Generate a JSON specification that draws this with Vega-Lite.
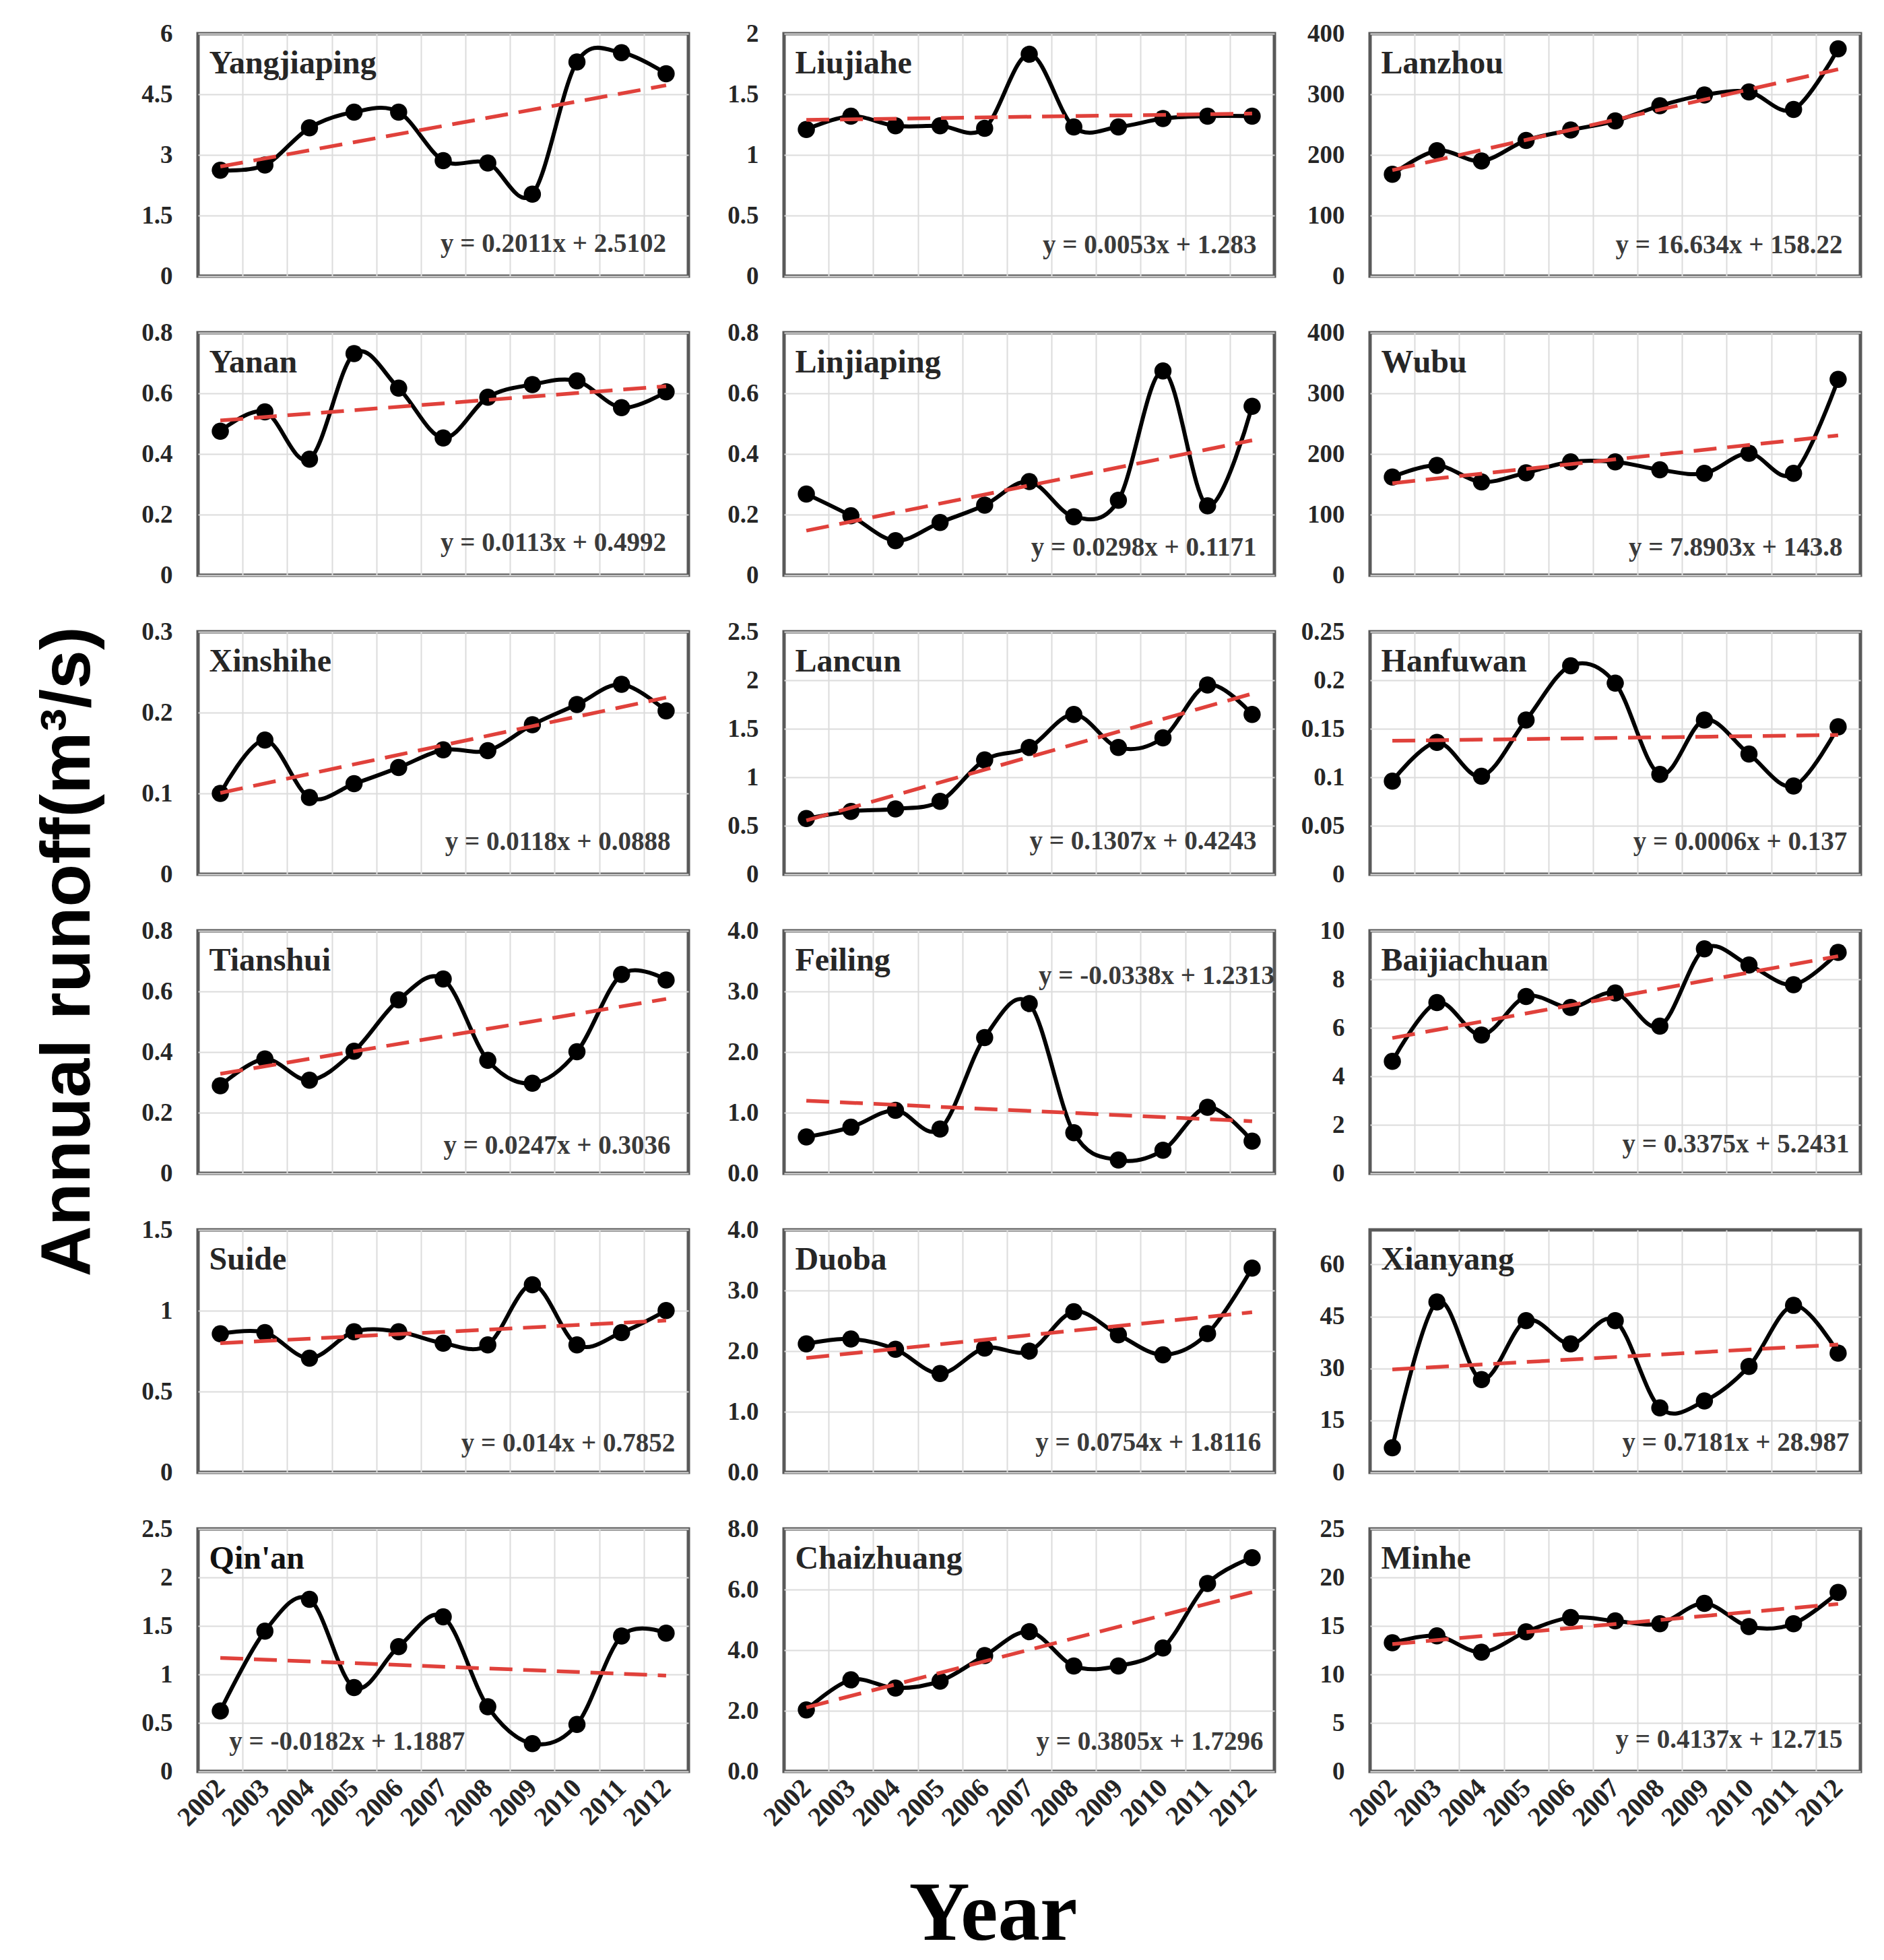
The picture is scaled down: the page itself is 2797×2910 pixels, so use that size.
{
"$schema": "https://vega.github.io/schema/vega-lite/v6.json",
"background": "white",
"padding": {"left": 50, "top": 28, "right": 10, "bottom": 10},
"title": {"text": "Annual runoff(m³/s)", "orient": "left", "anchor": "middle", "font": "Liberation Sans", "fontSize": 104, "fontWeight": "bold", "color": "black", "offset": 52, "dx": 55},
"datasets": {
"runoff": [
{"station":"Yangjiaping","year":2002,"value":2.62},{"station":"Yangjiaping","year":2003,"value":2.75},{"station":"Yangjiaping","year":2004,"value":3.67},{"station":"Yangjiaping","year":2005,"value":4.06},{"station":"Yangjiaping","year":2006,"value":4.06},{"station":"Yangjiaping","year":2007,"value":2.86},{"station":"Yangjiaping","year":2008,"value":2.80},{"station":"Yangjiaping","year":2009,"value":2.03},{"station":"Yangjiaping","year":2010,"value":5.30},{"station":"Yangjiaping","year":2011,"value":5.53},{"station":"Yangjiaping","year":2012,"value":5.01},
{"station":"Liujiahe","year":2002,"value":1.21},{"station":"Liujiahe","year":2003,"value":1.32},{"station":"Liujiahe","year":2004,"value":1.24},{"station":"Liujiahe","year":2005,"value":1.24},{"station":"Liujiahe","year":2006,"value":1.22},{"station":"Liujiahe","year":2007,"value":1.83},{"station":"Liujiahe","year":2008,"value":1.23},{"station":"Liujiahe","year":2009,"value":1.23},{"station":"Liujiahe","year":2010,"value":1.30},{"station":"Liujiahe","year":2011,"value":1.32},{"station":"Liujiahe","year":2012,"value":1.32},
{"station":"Lanzhou","year":2002,"value":168},{"station":"Lanzhou","year":2003,"value":207},{"station":"Lanzhou","year":2004,"value":190},{"station":"Lanzhou","year":2005,"value":224},{"station":"Lanzhou","year":2006,"value":241},{"station":"Lanzhou","year":2007,"value":256},{"station":"Lanzhou","year":2008,"value":281},{"station":"Lanzhou","year":2009,"value":299},{"station":"Lanzhou","year":2010,"value":304},{"station":"Lanzhou","year":2011,"value":275},{"station":"Lanzhou","year":2012,"value":375},
{"station":"Yanan","year":2002,"value":0.475},{"station":"Yanan","year":2003,"value":0.539},{"station":"Yanan","year":2004,"value":0.383},{"station":"Yanan","year":2005,"value":0.731},{"station":"Yanan","year":2006,"value":0.617},{"station":"Yanan","year":2007,"value":0.453},{"station":"Yanan","year":2008,"value":0.587},{"station":"Yanan","year":2009,"value":0.629},{"station":"Yanan","year":2010,"value":0.641},{"station":"Yanan","year":2011,"value":0.553},{"station":"Yanan","year":2012,"value":0.605},
{"station":"Linjiaping","year":2002,"value":0.268},{"station":"Linjiaping","year":2003,"value":0.196},{"station":"Linjiaping","year":2004,"value":0.114},{"station":"Linjiaping","year":2005,"value":0.174},{"station":"Linjiaping","year":2006,"value":0.231},{"station":"Linjiaping","year":2007,"value":0.309},{"station":"Linjiaping","year":2008,"value":0.193},{"station":"Linjiaping","year":2009,"value":0.247},{"station":"Linjiaping","year":2010,"value":0.674},{"station":"Linjiaping","year":2011,"value":0.229},{"station":"Linjiaping","year":2012,"value":0.557},
{"station":"Wubu","year":2002,"value":162},{"station":"Wubu","year":2003,"value":181},{"station":"Wubu","year":2004,"value":154},{"station":"Wubu","year":2005,"value":169},{"station":"Wubu","year":2006,"value":187},{"station":"Wubu","year":2007,"value":187},{"station":"Wubu","year":2008,"value":174},{"station":"Wubu","year":2009,"value":168},{"station":"Wubu","year":2010,"value":201},{"station":"Wubu","year":2011,"value":168},{"station":"Wubu","year":2012,"value":323},
{"station":"Xinshihe","year":2002,"value":0.100},{"station":"Xinshihe","year":2003,"value":0.166},{"station":"Xinshihe","year":2004,"value":0.095},{"station":"Xinshihe","year":2005,"value":0.112},{"station":"Xinshihe","year":2006,"value":0.132},{"station":"Xinshihe","year":2007,"value":0.154},{"station":"Xinshihe","year":2008,"value":0.153},{"station":"Xinshihe","year":2009,"value":0.185},{"station":"Xinshihe","year":2010,"value":0.210},{"station":"Xinshihe","year":2011,"value":0.235},{"station":"Xinshihe","year":2012,"value":0.202},
{"station":"Lancun","year":2002,"value":0.574},{"station":"Lancun","year":2003,"value":0.648},{"station":"Lancun","year":2004,"value":0.674},{"station":"Lancun","year":2005,"value":0.752},{"station":"Lancun","year":2006,"value":1.178},{"station":"Lancun","year":2007,"value":1.307},{"station":"Lancun","year":2008,"value":1.648},{"station":"Lancun","year":2009,"value":1.307},{"station":"Lancun","year":2010,"value":1.407},{"station":"Lancun","year":2011,"value":1.952},{"station":"Lancun","year":2012,"value":1.648},
{"station":"Hanfuwan","year":2002,"value":0.096},{"station":"Hanfuwan","year":2003,"value":0.136},{"station":"Hanfuwan","year":2004,"value":0.101},{"station":"Hanfuwan","year":2005,"value":0.159},{"station":"Hanfuwan","year":2006,"value":0.215},{"station":"Hanfuwan","year":2007,"value":0.197},{"station":"Hanfuwan","year":2008,"value":0.103},{"station":"Hanfuwan","year":2009,"value":0.159},{"station":"Hanfuwan","year":2010,"value":0.124},{"station":"Hanfuwan","year":2011,"value":0.091},{"station":"Hanfuwan","year":2012,"value":0.152},
{"station":"Tianshui","year":2002,"value":0.289},{"station":"Tianshui","year":2003,"value":0.377},{"station":"Tianshui","year":2004,"value":0.307},{"station":"Tianshui","year":2005,"value":0.403},{"station":"Tianshui","year":2006,"value":0.572},{"station":"Tianshui","year":2007,"value":0.641},{"station":"Tianshui","year":2008,"value":0.373},{"station":"Tianshui","year":2009,"value":0.297},{"station":"Tianshui","year":2010,"value":0.401},{"station":"Tianshui","year":2011,"value":0.656},{"station":"Tianshui","year":2012,"value":0.638},
{"station":"Feiling","year":2002,"value":0.60},{"station":"Feiling","year":2003,"value":0.76},{"station":"Feiling","year":2004,"value":1.04},{"station":"Feiling","year":2005,"value":0.73},{"station":"Feiling","year":2006,"value":2.24},{"station":"Feiling","year":2007,"value":2.80},{"station":"Feiling","year":2008,"value":0.67},{"station":"Feiling","year":2009,"value":0.22},{"station":"Feiling","year":2010,"value":0.38},{"station":"Feiling","year":2011,"value":1.09},{"station":"Feiling","year":2012,"value":0.53},
{"station":"Baijiachuan","year":2002,"value":4.62},{"station":"Baijiachuan","year":2003,"value":7.04},{"station":"Baijiachuan","year":2004,"value":5.70},{"station":"Baijiachuan","year":2005,"value":7.29},{"station":"Baijiachuan","year":2006,"value":6.84},{"station":"Baijiachuan","year":2007,"value":7.44},{"station":"Baijiachuan","year":2008,"value":6.07},{"station":"Baijiachuan","year":2009,"value":9.26},{"station":"Baijiachuan","year":2010,"value":8.59},{"station":"Baijiachuan","year":2011,"value":7.78},{"station":"Baijiachuan","year":2012,"value":9.11},
{"station":"Suide","year":2002,"value":0.857},{"station":"Suide","year":2003,"value":0.865},{"station":"Suide","year":2004,"value":0.706},{"station":"Suide","year":2005,"value":0.870},{"station":"Suide","year":2006,"value":0.870},{"station":"Suide","year":2007,"value":0.799},{"station":"Suide","year":2008,"value":0.789},{"station":"Suide","year":2009,"value":1.160},{"station":"Suide","year":2010,"value":0.789},{"station":"Suide","year":2011,"value":0.865},{"station":"Suide","year":2012,"value":1.001},
{"station":"Duoba","year":2002,"value":2.12},{"station":"Duoba","year":2003,"value":2.20},{"station":"Duoba","year":2004,"value":2.03},{"station":"Duoba","year":2005,"value":1.63},{"station":"Duoba","year":2006,"value":2.05},{"station":"Duoba","year":2007,"value":2.00},{"station":"Duoba","year":2008,"value":2.65},{"station":"Duoba","year":2009,"value":2.27},{"station":"Duoba","year":2010,"value":1.94},{"station":"Duoba","year":2011,"value":2.29},{"station":"Duoba","year":2012,"value":3.37},
{"station":"Xianyang","year":2002,"value":7.1},{"station":"Xianyang","year":2003,"value":49.2},{"station":"Xianyang","year":2004,"value":26.8},{"station":"Xianyang","year":2005,"value":43.8},{"station":"Xianyang","year":2006,"value":37.1},{"station":"Xianyang","year":2007,"value":43.8},{"station":"Xianyang","year":2008,"value":18.6},{"station":"Xianyang","year":2009,"value":20.6},{"station":"Xianyang","year":2010,"value":30.6},{"station":"Xianyang","year":2011,"value":48.2},{"station":"Xianyang","year":2012,"value":34.4},
{"station":"Qin'an","year":2002,"value":0.624},{"station":"Qin'an","year":2003,"value":1.446},{"station":"Qin'an","year":2004,"value":1.775},{"station":"Qin'an","year":2005,"value":0.864},{"station":"Qin'an","year":2006,"value":1.286},{"station":"Qin'an","year":2007,"value":1.594},{"station":"Qin'an","year":2008,"value":0.666},{"station":"Qin'an","year":2009,"value":0.287},{"station":"Qin'an","year":2010,"value":0.485},{"station":"Qin'an","year":2011,"value":1.396},{"station":"Qin'an","year":2012,"value":1.425},
{"station":"Chaizhuang","year":2002,"value":2.03},{"station":"Chaizhuang","year":2003,"value":3.02},{"station":"Chaizhuang","year":2004,"value":2.75},{"station":"Chaizhuang","year":2005,"value":2.98},{"station":"Chaizhuang","year":2006,"value":3.82},{"station":"Chaizhuang","year":2007,"value":4.61},{"station":"Chaizhuang","year":2008,"value":3.48},{"station":"Chaizhuang","year":2009,"value":3.48},{"station":"Chaizhuang","year":2010,"value":4.07},{"station":"Chaizhuang","year":2011,"value":6.20},{"station":"Chaizhuang","year":2012,"value":7.05},
{"station":"Minhe","year":2002,"value":13.26},{"station":"Minhe","year":2003,"value":13.97},{"station":"Minhe","year":2004,"value":12.29},{"station":"Minhe","year":2005,"value":14.39},{"station":"Minhe","year":2006,"value":15.86},{"station":"Minhe","year":2007,"value":15.52},{"station":"Minhe","year":2008,"value":15.23},{"station":"Minhe","year":2009,"value":17.32},{"station":"Minhe","year":2010,"value":14.93},{"station":"Minhe","year":2011,"value":15.23},{"station":"Minhe","year":2012,"value":18.46}
],
"trend": [
{"station":"Yangjiaping","year":2002,"value":2.7113},{"station":"Yangjiaping","year":2012,"value":4.7223},
{"station":"Liujiahe","year":2002,"value":1.2883},{"station":"Liujiahe","year":2012,"value":1.3413},
{"station":"Lanzhou","year":2002,"value":174.854},{"station":"Lanzhou","year":2012,"value":341.194},
{"station":"Yanan","year":2002,"value":0.5105},{"station":"Yanan","year":2012,"value":0.6235},
{"station":"Linjiaping","year":2002,"value":0.1469},{"station":"Linjiaping","year":2012,"value":0.4449},
{"station":"Wubu","year":2002,"value":151.69},{"station":"Wubu","year":2012,"value":230.593},
{"station":"Xinshihe","year":2002,"value":0.1006},{"station":"Xinshihe","year":2012,"value":0.2186},
{"station":"Lancun","year":2002,"value":0.555},{"station":"Lancun","year":2012,"value":1.862},
{"station":"Hanfuwan","year":2002,"value":0.1376},{"station":"Hanfuwan","year":2012,"value":0.1436},
{"station":"Tianshui","year":2002,"value":0.3283},{"station":"Tianshui","year":2012,"value":0.5753},
{"station":"Feiling","year":2002,"value":1.1975},{"station":"Feiling","year":2012,"value":0.8595},
{"station":"Baijiachuan","year":2002,"value":5.5806},{"station":"Baijiachuan","year":2012,"value":8.9556},
{"station":"Suide","year":2002,"value":0.7992},{"station":"Suide","year":2012,"value":0.9392},
{"station":"Duoba","year":2002,"value":1.887},{"station":"Duoba","year":2012,"value":2.641},
{"station":"Xianyang","year":2002,"value":29.705},{"station":"Xianyang","year":2012,"value":36.886},
{"station":"Qin'an","year":2002,"value":1.1705},{"station":"Qin'an","year":2012,"value":0.9885},
{"station":"Chaizhuang","year":2002,"value":2.1101},{"station":"Chaizhuang","year":2012,"value":5.9151},
{"station":"Minhe","year":2002,"value":13.1287},{"station":"Minhe","year":2012,"value":17.2657}
],
"labels": [
{"station":"Yangjiaping","equation":"y = 0.2011x + 2.5102"},
{"station":"Liujiahe","equation":"y = 0.0053x + 1.283"},
{"station":"Lanzhou","equation":"y = 16.634x + 158.22"},
{"station":"Yanan","equation":"y = 0.0113x + 0.4992"},
{"station":"Linjiaping","equation":"y = 0.0298x + 0.1171"},
{"station":"Wubu","equation":"y = 7.8903x + 143.8"},
{"station":"Xinshihe","equation":"y = 0.0118x + 0.0888"},
{"station":"Lancun","equation":"y = 0.1307x + 0.4243"},
{"station":"Hanfuwan","equation":"y = 0.0006x + 0.137"},
{"station":"Tianshui","equation":"y = 0.0247x + 0.3036"},
{"station":"Feiling","equation":"y = -0.0338x + 1.2313"},
{"station":"Baijiachuan","equation":"y = 0.3375x + 5.2431"},
{"station":"Suide","equation":"y = 0.014x + 0.7852"},
{"station":"Duoba","equation":"y = 0.0754x + 1.8116"},
{"station":"Xianyang","equation":"y = 0.7181x + 28.987"},
{"station":"Qin'an","equation":"y = -0.0182x + 1.1887"},
{"station":"Chaizhuang","equation":"y = 0.3805x + 1.7296"},
{"station":"Minhe","equation":"y = 0.4137x + 12.715"}
]
},
"columns": 3,
"spacing": {"row": 84, "column": 142},
"bounds": "flush",
"concat": [
{"width":728,"height":360,"resolve":{"axis":{"x":"independent"}},"layer":[
{"data":{"name":"runoff"},"transform":[{"filter":{"field":"station","equal":"Yangjiaping"}}],"mark":{"type":"line","color":"black","strokeWidth":6,"interpolate":"cardinal"},"encoding":{"x":{"field":"year","type":"quantitative","scale":{"domain":[2001.5,2012.5],"nice":false,"zero":false},"axis":{"orient":"bottom","values":[2002.5,2003.5,2004.5,2005.5,2006.5,2007.5,2008.5,2009.5,2010.5,2011.5],"grid":true,"labels":false,"title":null}},"y":{"field":"value","type":"quantitative","scale":{"domain":[0,6],"nice":false},"axis":{"values":[0,1.5,3,4.5,6],"format":".2~r","title":null}}}},
{"data":{"name":"runoff"},"transform":[{"filter":{"field":"station","equal":"Yangjiaping"}}],"mark":{"type":"point","filled":true,"color":"black","opacity":1,"size":650},"encoding":{"x":{"field":"year","type":"quantitative","axis":null},"y":{"field":"value","type":"quantitative"}}},
{"data":{"name":"trend"},"transform":[{"filter":{"field":"station","equal":"Yangjiaping"}}],"mark":{"type":"line","color":"#e0413b","strokeWidth":5.5,"strokeDash":[34,16]},"encoding":{"x":{"field":"year","type":"quantitative","axis":null},"y":{"field":"value","type":"quantitative"}}},
{"data":{"name":"labels"},"transform":[{"filter":{"field":"station","equal":"Yangjiaping"}}],"mark":{"type":"text","font":"Liberation Serif","fontWeight":"bold","fontSize":48,"align":"left","baseline":"alphabetic","color":"#262626"},"encoding":{"x":{"datum":2001.75,"type":"quantitative","axis":null},"y":{"datum":5.01,"type":"quantitative"},"text":{"field":"station"}}},
{"data":{"name":"labels"},"transform":[{"filter":{"field":"station","equal":"Yangjiaping"}}],"mark":{"type":"text","font":"Liberation Serif","fontWeight":"bold","fontSize":39,"align":"right","baseline":"alphabetic","color":"#3a3a3a"},"encoding":{"x":{"datum":2012.0,"type":"quantitative","axis":null},"y":{"datum":0.6,"type":"quantitative"},"text":{"field":"equation"}}}
]},
{"width":728,"height":360,"resolve":{"axis":{"x":"independent"}},"layer":[
{"data":{"name":"runoff"},"transform":[{"filter":{"field":"station","equal":"Liujiahe"}}],"mark":{"type":"line","color":"black","strokeWidth":6,"interpolate":"cardinal"},"encoding":{"x":{"field":"year","type":"quantitative","scale":{"domain":[2001.5,2012.5],"nice":false,"zero":false},"axis":{"orient":"bottom","values":[2002.5,2003.5,2004.5,2005.5,2006.5,2007.5,2008.5,2009.5,2010.5,2011.5],"grid":true,"labels":false,"title":null}},"y":{"field":"value","type":"quantitative","scale":{"domain":[0,2],"nice":false},"axis":{"values":[0,0.5,1,1.5,2],"format":".2~r","title":null}}}},
{"data":{"name":"runoff"},"transform":[{"filter":{"field":"station","equal":"Liujiahe"}}],"mark":{"type":"point","filled":true,"color":"black","opacity":1,"size":650},"encoding":{"x":{"field":"year","type":"quantitative","axis":null},"y":{"field":"value","type":"quantitative"}}},
{"data":{"name":"trend"},"transform":[{"filter":{"field":"station","equal":"Liujiahe"}}],"mark":{"type":"line","color":"#e0413b","strokeWidth":5.5,"strokeDash":[34,16]},"encoding":{"x":{"field":"year","type":"quantitative","axis":null},"y":{"field":"value","type":"quantitative"}}},
{"data":{"name":"labels"},"transform":[{"filter":{"field":"station","equal":"Liujiahe"}}],"mark":{"type":"text","font":"Liberation Serif","fontWeight":"bold","fontSize":48,"align":"left","baseline":"alphabetic","color":"#262626"},"encoding":{"x":{"datum":2001.75,"type":"quantitative","axis":null},"y":{"datum":1.67,"type":"quantitative"},"text":{"field":"station"}}},
{"data":{"name":"labels"},"transform":[{"filter":{"field":"station","equal":"Liujiahe"}}],"mark":{"type":"text","font":"Liberation Serif","fontWeight":"bold","fontSize":39,"align":"right","baseline":"alphabetic","color":"#3a3a3a"},"encoding":{"x":{"datum":2012.1,"type":"quantitative","axis":null},"y":{"datum":0.19,"type":"quantitative"},"text":{"field":"equation"}}}
]},
{"width":728,"height":360,"resolve":{"axis":{"x":"independent"}},"layer":[
{"data":{"name":"runoff"},"transform":[{"filter":{"field":"station","equal":"Lanzhou"}}],"mark":{"type":"line","color":"black","strokeWidth":6,"interpolate":"cardinal"},"encoding":{"x":{"field":"year","type":"quantitative","scale":{"domain":[2001.5,2012.5],"nice":false,"zero":false},"axis":{"orient":"bottom","values":[2002.5,2003.5,2004.5,2005.5,2006.5,2007.5,2008.5,2009.5,2010.5,2011.5],"grid":true,"labels":false,"title":null}},"y":{"field":"value","type":"quantitative","scale":{"domain":[0,400],"nice":false},"axis":{"values":[0,100,200,300,400],"format":"d","title":null}}}},
{"data":{"name":"runoff"},"transform":[{"filter":{"field":"station","equal":"Lanzhou"}}],"mark":{"type":"point","filled":true,"color":"black","opacity":1,"size":650},"encoding":{"x":{"field":"year","type":"quantitative","axis":null},"y":{"field":"value","type":"quantitative"}}},
{"data":{"name":"trend"},"transform":[{"filter":{"field":"station","equal":"Lanzhou"}}],"mark":{"type":"line","color":"#e0413b","strokeWidth":5.5,"strokeDash":[34,16]},"encoding":{"x":{"field":"year","type":"quantitative","axis":null},"y":{"field":"value","type":"quantitative"}}},
{"data":{"name":"labels"},"transform":[{"filter":{"field":"station","equal":"Lanzhou"}}],"mark":{"type":"text","font":"Liberation Serif","fontWeight":"bold","fontSize":48,"align":"left","baseline":"alphabetic","color":"#262626"},"encoding":{"x":{"datum":2001.75,"type":"quantitative","axis":null},"y":{"datum":334,"type":"quantitative"},"text":{"field":"station"}}},
{"data":{"name":"labels"},"transform":[{"filter":{"field":"station","equal":"Lanzhou"}}],"mark":{"type":"text","font":"Liberation Serif","fontWeight":"bold","fontSize":39,"align":"right","baseline":"alphabetic","color":"#3a3a3a"},"encoding":{"x":{"datum":2012.1,"type":"quantitative","axis":null},"y":{"datum":38,"type":"quantitative"},"text":{"field":"equation"}}}
]},
{"width":728,"height":360,"resolve":{"axis":{"x":"independent"}},"layer":[
{"data":{"name":"runoff"},"transform":[{"filter":{"field":"station","equal":"Yanan"}}],"mark":{"type":"line","color":"black","strokeWidth":6,"interpolate":"cardinal"},"encoding":{"x":{"field":"year","type":"quantitative","scale":{"domain":[2001.5,2012.5],"nice":false,"zero":false},"axis":{"orient":"bottom","values":[2002.5,2003.5,2004.5,2005.5,2006.5,2007.5,2008.5,2009.5,2010.5,2011.5],"grid":true,"labels":false,"title":null}},"y":{"field":"value","type":"quantitative","scale":{"domain":[0,0.8],"nice":false},"axis":{"values":[0,0.2,0.4,0.6,0.8],"format":".2~r","title":null}}}},
{"data":{"name":"runoff"},"transform":[{"filter":{"field":"station","equal":"Yanan"}}],"mark":{"type":"point","filled":true,"color":"black","opacity":1,"size":650},"encoding":{"x":{"field":"year","type":"quantitative","axis":null},"y":{"field":"value","type":"quantitative"}}},
{"data":{"name":"trend"},"transform":[{"filter":{"field":"station","equal":"Yanan"}}],"mark":{"type":"line","color":"#e0413b","strokeWidth":5.5,"strokeDash":[34,16]},"encoding":{"x":{"field":"year","type":"quantitative","axis":null},"y":{"field":"value","type":"quantitative"}}},
{"data":{"name":"labels"},"transform":[{"filter":{"field":"station","equal":"Yanan"}}],"mark":{"type":"text","font":"Liberation Serif","fontWeight":"bold","fontSize":48,"align":"left","baseline":"alphabetic","color":"#262626"},"encoding":{"x":{"datum":2001.75,"type":"quantitative","axis":null},"y":{"datum":0.668,"type":"quantitative"},"text":{"field":"station"}}},
{"data":{"name":"labels"},"transform":[{"filter":{"field":"station","equal":"Yanan"}}],"mark":{"type":"text","font":"Liberation Serif","fontWeight":"bold","fontSize":39,"align":"right","baseline":"alphabetic","color":"#3a3a3a"},"encoding":{"x":{"datum":2012.0,"type":"quantitative","axis":null},"y":{"datum":0.08,"type":"quantitative"},"text":{"field":"equation"}}}
]},
{"width":728,"height":360,"resolve":{"axis":{"x":"independent"}},"layer":[
{"data":{"name":"runoff"},"transform":[{"filter":{"field":"station","equal":"Linjiaping"}}],"mark":{"type":"line","color":"black","strokeWidth":6,"interpolate":"cardinal"},"encoding":{"x":{"field":"year","type":"quantitative","scale":{"domain":[2001.5,2012.5],"nice":false,"zero":false},"axis":{"orient":"bottom","values":[2002.5,2003.5,2004.5,2005.5,2006.5,2007.5,2008.5,2009.5,2010.5,2011.5],"grid":true,"labels":false,"title":null}},"y":{"field":"value","type":"quantitative","scale":{"domain":[0,0.8],"nice":false},"axis":{"values":[0,0.2,0.4,0.6,0.8],"format":".2~r","title":null}}}},
{"data":{"name":"runoff"},"transform":[{"filter":{"field":"station","equal":"Linjiaping"}}],"mark":{"type":"point","filled":true,"color":"black","opacity":1,"size":650},"encoding":{"x":{"field":"year","type":"quantitative","axis":null},"y":{"field":"value","type":"quantitative"}}},
{"data":{"name":"trend"},"transform":[{"filter":{"field":"station","equal":"Linjiaping"}}],"mark":{"type":"line","color":"#e0413b","strokeWidth":5.5,"strokeDash":[34,16]},"encoding":{"x":{"field":"year","type":"quantitative","axis":null},"y":{"field":"value","type":"quantitative"}}},
{"data":{"name":"labels"},"transform":[{"filter":{"field":"station","equal":"Linjiaping"}}],"mark":{"type":"text","font":"Liberation Serif","fontWeight":"bold","fontSize":48,"align":"left","baseline":"alphabetic","color":"#262626"},"encoding":{"x":{"datum":2001.75,"type":"quantitative","axis":null},"y":{"datum":0.668,"type":"quantitative"},"text":{"field":"station"}}},
{"data":{"name":"labels"},"transform":[{"filter":{"field":"station","equal":"Linjiaping"}}],"mark":{"type":"text","font":"Liberation Serif","fontWeight":"bold","fontSize":39,"align":"right","baseline":"alphabetic","color":"#3a3a3a"},"encoding":{"x":{"datum":2012.1,"type":"quantitative","axis":null},"y":{"datum":0.064,"type":"quantitative"},"text":{"field":"equation"}}}
]},
{"width":728,"height":360,"resolve":{"axis":{"x":"independent"}},"layer":[
{"data":{"name":"runoff"},"transform":[{"filter":{"field":"station","equal":"Wubu"}}],"mark":{"type":"line","color":"black","strokeWidth":6,"interpolate":"cardinal"},"encoding":{"x":{"field":"year","type":"quantitative","scale":{"domain":[2001.5,2012.5],"nice":false,"zero":false},"axis":{"orient":"bottom","values":[2002.5,2003.5,2004.5,2005.5,2006.5,2007.5,2008.5,2009.5,2010.5,2011.5],"grid":true,"labels":false,"title":null}},"y":{"field":"value","type":"quantitative","scale":{"domain":[0,400],"nice":false},"axis":{"values":[0,100,200,300,400],"format":"d","title":null}}}},
{"data":{"name":"runoff"},"transform":[{"filter":{"field":"station","equal":"Wubu"}}],"mark":{"type":"point","filled":true,"color":"black","opacity":1,"size":650},"encoding":{"x":{"field":"year","type":"quantitative","axis":null},"y":{"field":"value","type":"quantitative"}}},
{"data":{"name":"trend"},"transform":[{"filter":{"field":"station","equal":"Wubu"}}],"mark":{"type":"line","color":"#e0413b","strokeWidth":5.5,"strokeDash":[34,16]},"encoding":{"x":{"field":"year","type":"quantitative","axis":null},"y":{"field":"value","type":"quantitative"}}},
{"data":{"name":"labels"},"transform":[{"filter":{"field":"station","equal":"Wubu"}}],"mark":{"type":"text","font":"Liberation Serif","fontWeight":"bold","fontSize":48,"align":"left","baseline":"alphabetic","color":"#262626"},"encoding":{"x":{"datum":2001.75,"type":"quantitative","axis":null},"y":{"datum":334,"type":"quantitative"},"text":{"field":"station"}}},
{"data":{"name":"labels"},"transform":[{"filter":{"field":"station","equal":"Wubu"}}],"mark":{"type":"text","font":"Liberation Serif","fontWeight":"bold","fontSize":39,"align":"right","baseline":"alphabetic","color":"#3a3a3a"},"encoding":{"x":{"datum":2012.1,"type":"quantitative","axis":null},"y":{"datum":32,"type":"quantitative"},"text":{"field":"equation"}}}
]},
{"width":728,"height":360,"resolve":{"axis":{"x":"independent"}},"layer":[
{"data":{"name":"runoff"},"transform":[{"filter":{"field":"station","equal":"Xinshihe"}}],"mark":{"type":"line","color":"black","strokeWidth":6,"interpolate":"cardinal"},"encoding":{"x":{"field":"year","type":"quantitative","scale":{"domain":[2001.5,2012.5],"nice":false,"zero":false},"axis":{"orient":"bottom","values":[2002.5,2003.5,2004.5,2005.5,2006.5,2007.5,2008.5,2009.5,2010.5,2011.5],"grid":true,"labels":false,"title":null}},"y":{"field":"value","type":"quantitative","scale":{"domain":[0,0.3],"nice":false},"axis":{"values":[0,0.1,0.2,0.3],"format":".2~r","title":null}}}},
{"data":{"name":"runoff"},"transform":[{"filter":{"field":"station","equal":"Xinshihe"}}],"mark":{"type":"point","filled":true,"color":"black","opacity":1,"size":650},"encoding":{"x":{"field":"year","type":"quantitative","axis":null},"y":{"field":"value","type":"quantitative"}}},
{"data":{"name":"trend"},"transform":[{"filter":{"field":"station","equal":"Xinshihe"}}],"mark":{"type":"line","color":"#e0413b","strokeWidth":5.5,"strokeDash":[34,16]},"encoding":{"x":{"field":"year","type":"quantitative","axis":null},"y":{"field":"value","type":"quantitative"}}},
{"data":{"name":"labels"},"transform":[{"filter":{"field":"station","equal":"Xinshihe"}}],"mark":{"type":"text","font":"Liberation Serif","fontWeight":"bold","fontSize":48,"align":"left","baseline":"alphabetic","color":"#262626"},"encoding":{"x":{"datum":2001.75,"type":"quantitative","axis":null},"y":{"datum":0.2505,"type":"quantitative"},"text":{"field":"station"}}},
{"data":{"name":"labels"},"transform":[{"filter":{"field":"station","equal":"Xinshihe"}}],"mark":{"type":"text","font":"Liberation Serif","fontWeight":"bold","fontSize":39,"align":"right","baseline":"alphabetic","color":"#3a3a3a"},"encoding":{"x":{"datum":2012.1,"type":"quantitative","axis":null},"y":{"datum":0.03,"type":"quantitative"},"text":{"field":"equation"}}}
]},
{"width":728,"height":360,"resolve":{"axis":{"x":"independent"}},"layer":[
{"data":{"name":"runoff"},"transform":[{"filter":{"field":"station","equal":"Lancun"}}],"mark":{"type":"line","color":"black","strokeWidth":6,"interpolate":"cardinal"},"encoding":{"x":{"field":"year","type":"quantitative","scale":{"domain":[2001.5,2012.5],"nice":false,"zero":false},"axis":{"orient":"bottom","values":[2002.5,2003.5,2004.5,2005.5,2006.5,2007.5,2008.5,2009.5,2010.5,2011.5],"grid":true,"labels":false,"title":null}},"y":{"field":"value","type":"quantitative","scale":{"domain":[0,2.5],"nice":false},"axis":{"values":[0,0.5,1,1.5,2,2.5],"format":".2~r","title":null}}}},
{"data":{"name":"runoff"},"transform":[{"filter":{"field":"station","equal":"Lancun"}}],"mark":{"type":"point","filled":true,"color":"black","opacity":1,"size":650},"encoding":{"x":{"field":"year","type":"quantitative","axis":null},"y":{"field":"value","type":"quantitative"}}},
{"data":{"name":"trend"},"transform":[{"filter":{"field":"station","equal":"Lancun"}}],"mark":{"type":"line","color":"#e0413b","strokeWidth":5.5,"strokeDash":[34,16]},"encoding":{"x":{"field":"year","type":"quantitative","axis":null},"y":{"field":"value","type":"quantitative"}}},
{"data":{"name":"labels"},"transform":[{"filter":{"field":"station","equal":"Lancun"}}],"mark":{"type":"text","font":"Liberation Serif","fontWeight":"bold","fontSize":48,"align":"left","baseline":"alphabetic","color":"#262626"},"encoding":{"x":{"datum":2001.75,"type":"quantitative","axis":null},"y":{"datum":2.0875,"type":"quantitative"},"text":{"field":"station"}}},
{"data":{"name":"labels"},"transform":[{"filter":{"field":"station","equal":"Lancun"}}],"mark":{"type":"text","font":"Liberation Serif","fontWeight":"bold","fontSize":39,"align":"right","baseline":"alphabetic","color":"#3a3a3a"},"encoding":{"x":{"datum":2012.1,"type":"quantitative","axis":null},"y":{"datum":0.26,"type":"quantitative"},"text":{"field":"equation"}}}
]},
{"width":728,"height":360,"resolve":{"axis":{"x":"independent"}},"layer":[
{"data":{"name":"runoff"},"transform":[{"filter":{"field":"station","equal":"Hanfuwan"}}],"mark":{"type":"line","color":"black","strokeWidth":6,"interpolate":"cardinal"},"encoding":{"x":{"field":"year","type":"quantitative","scale":{"domain":[2001.5,2012.5],"nice":false,"zero":false},"axis":{"orient":"bottom","values":[2002.5,2003.5,2004.5,2005.5,2006.5,2007.5,2008.5,2009.5,2010.5,2011.5],"grid":true,"labels":false,"title":null}},"y":{"field":"value","type":"quantitative","scale":{"domain":[0,0.25],"nice":false},"axis":{"values":[0,0.05,0.1,0.15,0.2,0.25],"format":".2~r","title":null}}}},
{"data":{"name":"runoff"},"transform":[{"filter":{"field":"station","equal":"Hanfuwan"}}],"mark":{"type":"point","filled":true,"color":"black","opacity":1,"size":650},"encoding":{"x":{"field":"year","type":"quantitative","axis":null},"y":{"field":"value","type":"quantitative"}}},
{"data":{"name":"trend"},"transform":[{"filter":{"field":"station","equal":"Hanfuwan"}}],"mark":{"type":"line","color":"#e0413b","strokeWidth":5.5,"strokeDash":[34,16]},"encoding":{"x":{"field":"year","type":"quantitative","axis":null},"y":{"field":"value","type":"quantitative"}}},
{"data":{"name":"labels"},"transform":[{"filter":{"field":"station","equal":"Hanfuwan"}}],"mark":{"type":"text","font":"Liberation Serif","fontWeight":"bold","fontSize":48,"align":"left","baseline":"alphabetic","color":"#262626"},"encoding":{"x":{"datum":2001.75,"type":"quantitative","axis":null},"y":{"datum":0.20875,"type":"quantitative"},"text":{"field":"station"}}},
{"data":{"name":"labels"},"transform":[{"filter":{"field":"station","equal":"Hanfuwan"}}],"mark":{"type":"text","font":"Liberation Serif","fontWeight":"bold","fontSize":39,"align":"right","baseline":"alphabetic","color":"#3a3a3a"},"encoding":{"x":{"datum":2012.2,"type":"quantitative","axis":null},"y":{"datum":0.025,"type":"quantitative"},"text":{"field":"equation"}}}
]},
{"width":728,"height":360,"resolve":{"axis":{"x":"independent"}},"layer":[
{"data":{"name":"runoff"},"transform":[{"filter":{"field":"station","equal":"Tianshui"}}],"mark":{"type":"line","color":"black","strokeWidth":6,"interpolate":"cardinal"},"encoding":{"x":{"field":"year","type":"quantitative","scale":{"domain":[2001.5,2012.5],"nice":false,"zero":false},"axis":{"orient":"bottom","values":[2002.5,2003.5,2004.5,2005.5,2006.5,2007.5,2008.5,2009.5,2010.5,2011.5],"grid":true,"labels":false,"title":null}},"y":{"field":"value","type":"quantitative","scale":{"domain":[0,0.8],"nice":false},"axis":{"values":[0,0.2,0.4,0.6,0.8],"format":".2~r","title":null}}}},
{"data":{"name":"runoff"},"transform":[{"filter":{"field":"station","equal":"Tianshui"}}],"mark":{"type":"point","filled":true,"color":"black","opacity":1,"size":650},"encoding":{"x":{"field":"year","type":"quantitative","axis":null},"y":{"field":"value","type":"quantitative"}}},
{"data":{"name":"trend"},"transform":[{"filter":{"field":"station","equal":"Tianshui"}}],"mark":{"type":"line","color":"#e0413b","strokeWidth":5.5,"strokeDash":[34,16]},"encoding":{"x":{"field":"year","type":"quantitative","axis":null},"y":{"field":"value","type":"quantitative"}}},
{"data":{"name":"labels"},"transform":[{"filter":{"field":"station","equal":"Tianshui"}}],"mark":{"type":"text","font":"Liberation Serif","fontWeight":"bold","fontSize":48,"align":"left","baseline":"alphabetic","color":"#262626"},"encoding":{"x":{"datum":2001.75,"type":"quantitative","axis":null},"y":{"datum":0.668,"type":"quantitative"},"text":{"field":"station"}}},
{"data":{"name":"labels"},"transform":[{"filter":{"field":"station","equal":"Tianshui"}}],"mark":{"type":"text","font":"Liberation Serif","fontWeight":"bold","fontSize":39,"align":"right","baseline":"alphabetic","color":"#3a3a3a"},"encoding":{"x":{"datum":2012.1,"type":"quantitative","axis":null},"y":{"datum":0.064,"type":"quantitative"},"text":{"field":"equation"}}}
]},
{"width":728,"height":360,"resolve":{"axis":{"x":"independent"}},"layer":[
{"data":{"name":"runoff"},"transform":[{"filter":{"field":"station","equal":"Feiling"}}],"mark":{"type":"line","color":"black","strokeWidth":6,"interpolate":"cardinal"},"encoding":{"x":{"field":"year","type":"quantitative","scale":{"domain":[2001.5,2012.5],"nice":false,"zero":false},"axis":{"orient":"bottom","values":[2002.5,2003.5,2004.5,2005.5,2006.5,2007.5,2008.5,2009.5,2010.5,2011.5],"grid":true,"labels":false,"title":null}},"y":{"field":"value","type":"quantitative","scale":{"domain":[0,4],"nice":false},"axis":{"values":[0,1,2,3,4],"format":".1f","title":null}}}},
{"data":{"name":"runoff"},"transform":[{"filter":{"field":"station","equal":"Feiling"}}],"mark":{"type":"point","filled":true,"color":"black","opacity":1,"size":650},"encoding":{"x":{"field":"year","type":"quantitative","axis":null},"y":{"field":"value","type":"quantitative"}}},
{"data":{"name":"trend"},"transform":[{"filter":{"field":"station","equal":"Feiling"}}],"mark":{"type":"line","color":"#e0413b","strokeWidth":5.5,"strokeDash":[34,16]},"encoding":{"x":{"field":"year","type":"quantitative","axis":null},"y":{"field":"value","type":"quantitative"}}},
{"data":{"name":"labels"},"transform":[{"filter":{"field":"station","equal":"Feiling"}}],"mark":{"type":"text","font":"Liberation Serif","fontWeight":"bold","fontSize":48,"align":"left","baseline":"alphabetic","color":"#262626"},"encoding":{"x":{"datum":2001.75,"type":"quantitative","axis":null},"y":{"datum":3.34,"type":"quantitative"},"text":{"field":"station"}}},
{"data":{"name":"labels"},"transform":[{"filter":{"field":"station","equal":"Feiling"}}],"mark":{"type":"text","font":"Liberation Serif","fontWeight":"bold","fontSize":39,"align":"right","baseline":"alphabetic","color":"#3a3a3a"},"encoding":{"x":{"datum":2012.5,"type":"quantitative","axis":null},"y":{"datum":3.12,"type":"quantitative"},"text":{"field":"equation"}}}
]},
{"width":728,"height":360,"resolve":{"axis":{"x":"independent"}},"layer":[
{"data":{"name":"runoff"},"transform":[{"filter":{"field":"station","equal":"Baijiachuan"}}],"mark":{"type":"line","color":"black","strokeWidth":6,"interpolate":"cardinal"},"encoding":{"x":{"field":"year","type":"quantitative","scale":{"domain":[2001.5,2012.5],"nice":false,"zero":false},"axis":{"orient":"bottom","values":[2002.5,2003.5,2004.5,2005.5,2006.5,2007.5,2008.5,2009.5,2010.5,2011.5],"grid":true,"labels":false,"title":null}},"y":{"field":"value","type":"quantitative","scale":{"domain":[0,10],"nice":false},"axis":{"values":[0,2,4,6,8,10],"format":"d","title":null}}}},
{"data":{"name":"runoff"},"transform":[{"filter":{"field":"station","equal":"Baijiachuan"}}],"mark":{"type":"point","filled":true,"color":"black","opacity":1,"size":650},"encoding":{"x":{"field":"year","type":"quantitative","axis":null},"y":{"field":"value","type":"quantitative"}}},
{"data":{"name":"trend"},"transform":[{"filter":{"field":"station","equal":"Baijiachuan"}}],"mark":{"type":"line","color":"#e0413b","strokeWidth":5.5,"strokeDash":[34,16]},"encoding":{"x":{"field":"year","type":"quantitative","axis":null},"y":{"field":"value","type":"quantitative"}}},
{"data":{"name":"labels"},"transform":[{"filter":{"field":"station","equal":"Baijiachuan"}}],"mark":{"type":"text","font":"Liberation Serif","fontWeight":"bold","fontSize":48,"align":"left","baseline":"alphabetic","color":"#262626"},"encoding":{"x":{"datum":2001.75,"type":"quantitative","axis":null},"y":{"datum":8.35,"type":"quantitative"},"text":{"field":"station"}}},
{"data":{"name":"labels"},"transform":[{"filter":{"field":"station","equal":"Baijiachuan"}}],"mark":{"type":"text","font":"Liberation Serif","fontWeight":"bold","fontSize":39,"align":"right","baseline":"alphabetic","color":"#3a3a3a"},"encoding":{"x":{"datum":2012.25,"type":"quantitative","axis":null},"y":{"datum":0.85,"type":"quantitative"},"text":{"field":"equation"}}}
]},
{"width":728,"height":360,"resolve":{"axis":{"x":"independent"}},"layer":[
{"data":{"name":"runoff"},"transform":[{"filter":{"field":"station","equal":"Suide"}}],"mark":{"type":"line","color":"black","strokeWidth":6,"interpolate":"cardinal"},"encoding":{"x":{"field":"year","type":"quantitative","scale":{"domain":[2001.5,2012.5],"nice":false,"zero":false},"axis":{"orient":"bottom","values":[2002.5,2003.5,2004.5,2005.5,2006.5,2007.5,2008.5,2009.5,2010.5,2011.5],"grid":true,"labels":false,"title":null}},"y":{"field":"value","type":"quantitative","scale":{"domain":[0,1.5],"nice":false},"axis":{"values":[0,0.5,1,1.5],"format":".2~r","title":null}}}},
{"data":{"name":"runoff"},"transform":[{"filter":{"field":"station","equal":"Suide"}}],"mark":{"type":"point","filled":true,"color":"black","opacity":1,"size":650},"encoding":{"x":{"field":"year","type":"quantitative","axis":null},"y":{"field":"value","type":"quantitative"}}},
{"data":{"name":"trend"},"transform":[{"filter":{"field":"station","equal":"Suide"}}],"mark":{"type":"line","color":"#e0413b","strokeWidth":5.5,"strokeDash":[34,16]},"encoding":{"x":{"field":"year","type":"quantitative","axis":null},"y":{"field":"value","type":"quantitative"}}},
{"data":{"name":"labels"},"transform":[{"filter":{"field":"station","equal":"Suide"}}],"mark":{"type":"text","font":"Liberation Serif","fontWeight":"bold","fontSize":48,"align":"left","baseline":"alphabetic","color":"#262626"},"encoding":{"x":{"datum":2001.75,"type":"quantitative","axis":null},"y":{"datum":1.2525,"type":"quantitative"},"text":{"field":"station"}}},
{"data":{"name":"labels"},"transform":[{"filter":{"field":"station","equal":"Suide"}}],"mark":{"type":"text","font":"Liberation Serif","fontWeight":"bold","fontSize":39,"align":"right","baseline":"alphabetic","color":"#3a3a3a"},"encoding":{"x":{"datum":2012.2,"type":"quantitative","axis":null},"y":{"datum":0.13,"type":"quantitative"},"text":{"field":"equation"}}}
]},
{"width":728,"height":360,"resolve":{"axis":{"x":"independent"}},"layer":[
{"data":{"name":"runoff"},"transform":[{"filter":{"field":"station","equal":"Duoba"}}],"mark":{"type":"line","color":"black","strokeWidth":6,"interpolate":"cardinal"},"encoding":{"x":{"field":"year","type":"quantitative","scale":{"domain":[2001.5,2012.5],"nice":false,"zero":false},"axis":{"orient":"bottom","values":[2002.5,2003.5,2004.5,2005.5,2006.5,2007.5,2008.5,2009.5,2010.5,2011.5],"grid":true,"labels":false,"title":null}},"y":{"field":"value","type":"quantitative","scale":{"domain":[0,4],"nice":false},"axis":{"values":[0,1,2,3,4],"format":".1f","title":null}}}},
{"data":{"name":"runoff"},"transform":[{"filter":{"field":"station","equal":"Duoba"}}],"mark":{"type":"point","filled":true,"color":"black","opacity":1,"size":650},"encoding":{"x":{"field":"year","type":"quantitative","axis":null},"y":{"field":"value","type":"quantitative"}}},
{"data":{"name":"trend"},"transform":[{"filter":{"field":"station","equal":"Duoba"}}],"mark":{"type":"line","color":"#e0413b","strokeWidth":5.5,"strokeDash":[34,16]},"encoding":{"x":{"field":"year","type":"quantitative","axis":null},"y":{"field":"value","type":"quantitative"}}},
{"data":{"name":"labels"},"transform":[{"filter":{"field":"station","equal":"Duoba"}}],"mark":{"type":"text","font":"Liberation Serif","fontWeight":"bold","fontSize":48,"align":"left","baseline":"alphabetic","color":"#262626"},"encoding":{"x":{"datum":2001.75,"type":"quantitative","axis":null},"y":{"datum":3.34,"type":"quantitative"},"text":{"field":"station"}}},
{"data":{"name":"labels"},"transform":[{"filter":{"field":"station","equal":"Duoba"}}],"mark":{"type":"text","font":"Liberation Serif","fontWeight":"bold","fontSize":39,"align":"right","baseline":"alphabetic","color":"#3a3a3a"},"encoding":{"x":{"datum":2012.2,"type":"quantitative","axis":null},"y":{"datum":0.36,"type":"quantitative"},"text":{"field":"equation"}}}
]},
{"width":728,"height":360,"resolve":{"axis":{"x":"independent"}},"layer":[
{"data":{"name":"runoff"},"transform":[{"filter":{"field":"station","equal":"Xianyang"}}],"mark":{"type":"line","color":"black","strokeWidth":6,"interpolate":"cardinal"},"encoding":{"x":{"field":"year","type":"quantitative","scale":{"domain":[2001.5,2012.5],"nice":false,"zero":false},"axis":{"orient":"bottom","values":[2002.5,2003.5,2004.5,2005.5,2006.5,2007.5,2008.5,2009.5,2010.5,2011.5],"grid":true,"labels":false,"title":null}},"y":{"field":"value","type":"quantitative","scale":{"domain":[0,70],"nice":false},"axis":{"values":[0,15,30,45,60],"format":"d","title":null}}}},
{"data":{"name":"runoff"},"transform":[{"filter":{"field":"station","equal":"Xianyang"}}],"mark":{"type":"point","filled":true,"color":"black","opacity":1,"size":650},"encoding":{"x":{"field":"year","type":"quantitative","axis":null},"y":{"field":"value","type":"quantitative"}}},
{"data":{"name":"trend"},"transform":[{"filter":{"field":"station","equal":"Xianyang"}}],"mark":{"type":"line","color":"#e0413b","strokeWidth":5.5,"strokeDash":[34,16]},"encoding":{"x":{"field":"year","type":"quantitative","axis":null},"y":{"field":"value","type":"quantitative"}}},
{"data":{"name":"labels"},"transform":[{"filter":{"field":"station","equal":"Xianyang"}}],"mark":{"type":"text","font":"Liberation Serif","fontWeight":"bold","fontSize":48,"align":"left","baseline":"alphabetic","color":"#262626"},"encoding":{"x":{"datum":2001.75,"type":"quantitative","axis":null},"y":{"datum":58.45,"type":"quantitative"},"text":{"field":"station"}}},
{"data":{"name":"labels"},"transform":[{"filter":{"field":"station","equal":"Xianyang"}}],"mark":{"type":"text","font":"Liberation Serif","fontWeight":"bold","fontSize":39,"align":"right","baseline":"alphabetic","color":"#3a3a3a"},"encoding":{"x":{"datum":2012.25,"type":"quantitative","axis":null},"y":{"datum":6.2,"type":"quantitative"},"text":{"field":"equation"}}}
]},
{"width":728,"height":360,"resolve":{"axis":{"x":"independent"}},"layer":[
{"data":{"name":"runoff"},"transform":[{"filter":{"field":"station","equal":"Qin'an"}}],"mark":{"type":"line","color":"black","strokeWidth":6,"interpolate":"cardinal"},"encoding":{"x":{"field":"year","type":"quantitative","scale":{"domain":[2001.5,2012.5],"nice":false,"zero":false},"axis":{"orient":"bottom","values":[2002.5,2003.5,2004.5,2005.5,2006.5,2007.5,2008.5,2009.5,2010.5,2011.5],"grid":true,"labels":false,"title":null}},"y":{"field":"value","type":"quantitative","scale":{"domain":[0,2.5],"nice":false},"axis":{"values":[0,0.5,1,1.5,2,2.5],"format":".2~r","title":null}}}},
{"data":{"name":"runoff"},"transform":[{"filter":{"field":"station","equal":"Qin'an"}}],"mark":{"type":"point","filled":true,"color":"black","opacity":1,"size":650},"encoding":{"x":{"field":"year","type":"quantitative","axis":{"orient":"bottom","values":[2002,2003,2004,2005,2006,2007,2008,2009,2010,2011,2012],"format":"d","labelAngle":-45,"labelAlign":"right","labelBaseline":"middle","grid":false,"title":null}},"y":{"field":"value","type":"quantitative"}}},
{"data":{"name":"trend"},"transform":[{"filter":{"field":"station","equal":"Qin'an"}}],"mark":{"type":"line","color":"#e0413b","strokeWidth":5.5,"strokeDash":[34,16]},"encoding":{"x":{"field":"year","type":"quantitative","axis":null},"y":{"field":"value","type":"quantitative"}}},
{"data":{"name":"labels"},"transform":[{"filter":{"field":"station","equal":"Qin'an"}}],"mark":{"type":"text","font":"Liberation Serif","fontWeight":"bold","fontSize":48,"align":"left","baseline":"alphabetic","color":"#111111"},"encoding":{"x":{"datum":2001.75,"type":"quantitative","axis":null},"y":{"datum":2.0875,"type":"quantitative"},"text":{"field":"station"}}},
{"data":{"name":"labels"},"transform":[{"filter":{"field":"station","equal":"Qin'an"}}],"mark":{"type":"text","font":"Liberation Serif","fontWeight":"bold","fontSize":39,"align":"left","baseline":"alphabetic","color":"#3a3a3a"},"encoding":{"x":{"datum":2002.2,"type":"quantitative","axis":null},"y":{"datum":0.22,"type":"quantitative"},"text":{"field":"equation"}}}
]},
{"width":728,"height":360,"resolve":{"axis":{"x":"independent"}},"layer":[
{"data":{"name":"runoff"},"transform":[{"filter":{"field":"station","equal":"Chaizhuang"}}],"mark":{"type":"line","color":"black","strokeWidth":6,"interpolate":"cardinal"},"encoding":{"x":{"field":"year","type":"quantitative","scale":{"domain":[2001.5,2012.5],"nice":false,"zero":false},"axis":{"orient":"bottom","values":[2002.5,2003.5,2004.5,2005.5,2006.5,2007.5,2008.5,2009.5,2010.5,2011.5],"grid":true,"labels":false,"title":null}},"y":{"field":"value","type":"quantitative","scale":{"domain":[0,8],"nice":false},"axis":{"values":[0,2,4,6,8],"format":".1f","title":null}}}},
{"data":{"name":"runoff"},"transform":[{"filter":{"field":"station","equal":"Chaizhuang"}}],"mark":{"type":"point","filled":true,"color":"black","opacity":1,"size":650},"encoding":{"x":{"field":"year","type":"quantitative","axis":{"orient":"bottom","values":[2002,2003,2004,2005,2006,2007,2008,2009,2010,2011,2012],"format":"d","labelAngle":-45,"labelAlign":"right","labelBaseline":"middle","grid":false,"title":"Year","titleFont":"Liberation Serif","titleFontSize":125,"titleFontWeight":"bold","titleColor":"black","titlePadding":62,"titleX":310}},"y":{"field":"value","type":"quantitative"}}},
{"data":{"name":"trend"},"transform":[{"filter":{"field":"station","equal":"Chaizhuang"}}],"mark":{"type":"line","color":"#e0413b","strokeWidth":5.5,"strokeDash":[34,16]},"encoding":{"x":{"field":"year","type":"quantitative","axis":null},"y":{"field":"value","type":"quantitative"}}},
{"data":{"name":"labels"},"transform":[{"filter":{"field":"station","equal":"Chaizhuang"}}],"mark":{"type":"text","font":"Liberation Serif","fontWeight":"bold","fontSize":48,"align":"left","baseline":"alphabetic","color":"#262626"},"encoding":{"x":{"datum":2001.75,"type":"quantitative","axis":null},"y":{"datum":6.68,"type":"quantitative"},"text":{"field":"station"}}},
{"data":{"name":"labels"},"transform":[{"filter":{"field":"station","equal":"Chaizhuang"}}],"mark":{"type":"text","font":"Liberation Serif","fontWeight":"bold","fontSize":39,"align":"right","baseline":"alphabetic","color":"#3a3a3a"},"encoding":{"x":{"datum":2012.25,"type":"quantitative","axis":null},"y":{"datum":0.72,"type":"quantitative"},"text":{"field":"equation"}}}
]},
{"width":728,"height":360,"resolve":{"axis":{"x":"independent"}},"layer":[
{"data":{"name":"runoff"},"transform":[{"filter":{"field":"station","equal":"Minhe"}}],"mark":{"type":"line","color":"black","strokeWidth":6,"interpolate":"cardinal"},"encoding":{"x":{"field":"year","type":"quantitative","scale":{"domain":[2001.5,2012.5],"nice":false,"zero":false},"axis":{"orient":"bottom","values":[2002.5,2003.5,2004.5,2005.5,2006.5,2007.5,2008.5,2009.5,2010.5,2011.5],"grid":true,"labels":false,"title":null}},"y":{"field":"value","type":"quantitative","scale":{"domain":[0,25],"nice":false},"axis":{"values":[0,5,10,15,20,25],"format":"d","title":null}}}},
{"data":{"name":"runoff"},"transform":[{"filter":{"field":"station","equal":"Minhe"}}],"mark":{"type":"point","filled":true,"color":"black","opacity":1,"size":650},"encoding":{"x":{"field":"year","type":"quantitative","axis":{"orient":"bottom","values":[2002,2003,2004,2005,2006,2007,2008,2009,2010,2011,2012],"format":"d","labelAngle":-45,"labelAlign":"right","labelBaseline":"middle","grid":false,"title":null}},"y":{"field":"value","type":"quantitative"}}},
{"data":{"name":"trend"},"transform":[{"filter":{"field":"station","equal":"Minhe"}}],"mark":{"type":"line","color":"#e0413b","strokeWidth":5.5,"strokeDash":[34,16]},"encoding":{"x":{"field":"year","type":"quantitative","axis":null},"y":{"field":"value","type":"quantitative"}}},
{"data":{"name":"labels"},"transform":[{"filter":{"field":"station","equal":"Minhe"}}],"mark":{"type":"text","font":"Liberation Serif","fontWeight":"bold","fontSize":48,"align":"left","baseline":"alphabetic","color":"#262626"},"encoding":{"x":{"datum":2001.75,"type":"quantitative","axis":null},"y":{"datum":20.875,"type":"quantitative"},"text":{"field":"station"}}},
{"data":{"name":"labels"},"transform":[{"filter":{"field":"station","equal":"Minhe"}}],"mark":{"type":"text","font":"Liberation Serif","fontWeight":"bold","fontSize":39,"align":"right","baseline":"alphabetic","color":"#3a3a3a"},"encoding":{"x":{"datum":2012.1,"type":"quantitative","axis":null},"y":{"datum":2.4,"type":"quantitative"},"text":{"field":"equation"}}}
]}
],
"config": {
"view": {"stroke": "#595959", "strokeWidth": 5},
"axis": {"labelFont": "Liberation Serif", "labelFontWeight": "bold", "labelFontSize": 37, "labelColor": "#262626", "ticks": false, "domain": false, "gridColor": "#dcdcdc", "gridWidth": 2, "labelPadding": 38, "labelOverlap": false},
"axisX": {"labelFontSize": 40, "labelPadding": 18, "labelFlush": false},
"text": {"font": "Liberation Serif"}
}
}
